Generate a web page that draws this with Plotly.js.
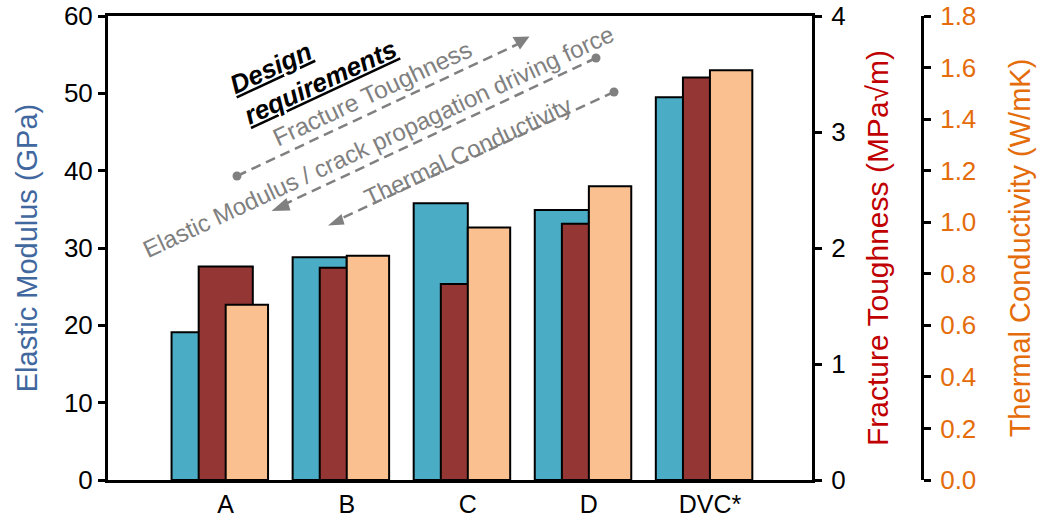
<!DOCTYPE html>
<html>
<head>
<meta charset="utf-8">
<script src="https://cdn.plot.ly/plotly-3.0.1.min.js"></script>
<style>html,body{margin:0;padding:0;background:#fff}</style>
</head>
<body>
<div id="chart" style="width:1058px;height:520px"></div>
<script>
// Materials compared
const materials = ['A', 'B', 'C', 'D', 'DVC*'];
// Elastic modulus (GPa) – left axis
const elasticModulus = [19.1, 28.8, 35.8, 34.9, 49.5];
// Fracture toughness (MPa√m) – first right axis
const fractureToughness = [1.84, 1.83, 1.69, 2.21, 3.47];
// Thermal conductivity (W/mK) – outer right axis
const thermalConductivity = [0.68, 0.87, 0.98, 1.14, 1.59];

const FONT = 'Liberation Sans, Arial, Helvetica, sans-serif';
const W = 1058, H = 520;
const M = {l: 108, r: 136, t: 16, b: 40};
const plotW = W - M.l - M.r, plotH = H - M.t - M.b;
const xDomainEnd = 704 / plotW;

// helpers: page pixel -> paper fraction (for the decorative arrows)
const px = v => (v - M.l) / plotW;
const py = v => (H - M.b - v) / plotH;

const GRAY = '#808080';
const edge = {color: '#000', width: 2};

const traces = [
  {type: 'bar', x: materials, y: elasticModulus, yaxis: 'y', name: 'Elastic Modulus',
   offset: -0.447, width: 0.447, marker: {color: '#4BACC6', line: edge}},
  {type: 'bar', x: materials, y: fractureToughness, yaxis: 'y2', name: 'Fracture Toughness',
   offset: -0.223, width: 0.447, marker: {color: '#943634', line: edge}},
  {type: 'bar', x: materials, y: thermalConductivity, yaxis: 'y3', name: 'Thermal Conductivity',
   offset: 0, width: 0.35, marker: {color: '#FAC090', line: edge}}
];

// dashed guide arrows with dot at the tail and a triangular head
function dashed(x0, y0, x1, y1) {
  return {type: 'line', xref: 'paper', yref: 'paper', x0: px(x0), y0: py(y0), x1: px(x1), y1: py(y1),
          line: {color: GRAY, width: 2.5, dash: '10px,6px'}};
}
function dot(cx, cy, r) {
  return {type: 'circle', xref: 'paper', yref: 'paper', x0: px(cx - r), x1: px(cx + r),
          y0: py(cy + r), y1: py(cy - r), fillcolor: GRAY, line: {width: 0}};
}
function tri(pts) {
  const d = 'M ' + pts.map(p => px(p[0]) + ',' + py(p[1])).join(' L ') + ' Z';
  return {type: 'path', xref: 'paper', yref: 'paper', path: d, fillcolor: GRAY, line: {width: 0}};
}

const shapes = [
  dashed(237, 176, 518, 44), dot(237, 176, 4.5), tri([[512.5, 37], [529.5, 36.5], [520, 49.5]]),
  dashed(596, 58, 285, 204), dot(596, 58, 4.5), tri([[271.5, 211], [286.5, 198], [290.5, 210.5]]),
  dashed(614, 92, 340, 219), dot(614, 92, 4.5), tri([[328, 225.5], [341.5, 214], [344.5, 224.5]])
];

function note(text, cx, cy, size, color, extra) {
  return Object.assign({xref: 'paper', yref: 'paper', x: px(cx), y: py(cy), text: text,
    showarrow: false, textangle: -25, xanchor: 'center', yanchor: 'middle',
    font: {family: FONT, size: size, color: color}}, extra || {});
}

const annotations = [
  note('<b><i><u>Design</u></i></b><br><b><i><u>requirements</u></i></b>', 313, 67, 26, '#000', {align: 'left'}),
  note('Fracture Toughness', 372, 93, 24.5, GRAY),
  note('Elastic Modulus / crack propagation driving force', 378, 141, 24, GRAY),
  note('Thermal Conductivity', 467, 151, 24, GRAY)
];

const axisCommon = {
  showline: true, linecolor: '#000', linewidth: 3,
  ticks: 'outside', ticklen: 7, tickwidth: 3, tickcolor: '#000',
  showgrid: false, zeroline: false, fixedrange: true,
  tickfont: {family: FONT, size: 26, color: '#000'}
};

const layout = {
  width: W, height: H,
  margin: M,
  paper_bgcolor: '#fff', plot_bgcolor: '#fff',
  showlegend: false,
  font: {family: FONT},
  xaxis: {
    domain: [0, xDomainEnd], type: 'category', range: [-0.972, 4.843],
    showline: true, linecolor: '#000', linewidth: 3, mirror: true,
    ticks: '', showgrid: false, zeroline: false, fixedrange: true,
    tickfont: {family: FONT, size: 25, color: '#000'}
  },
  yaxis: Object.assign({}, axisCommon, {
    range: [0, 60], dtick: 10, tick0: 0,
    title: {text: 'Elastic Modulus (GPa)', standoff: 18,
            font: {family: FONT, size: 29, color: '#41689E'}}
  }),
  yaxis2: Object.assign({}, axisCommon, {
    overlaying: 'y', side: 'right', anchor: 'x',
    range: [0, 4], dtick: 1, tick0: 0, ticklabelstandoff: 4,
    title: {text: 'Fracture Toughness (MPa\u221Am)', standoff: 23,
            font: {family: FONT, size: 30, color: '#C00000'}}
  }),
  yaxis3: Object.assign({}, axisCommon, {
    overlaying: 'y', side: 'right', anchor: 'free', position: 1,
    range: [0, 1.8], dtick: 0.2, tick0: 0, tickformat: '.1f', ticklabelstandoff: 4,
    tickfont: {family: FONT, size: 26, color: '#E46C0A'},
    title: {text: 'Thermal Conductivity (W/mK)', standoff: 34,
            font: {family: FONT, size: 29, color: '#E46C0A'}}
  }),
  shapes: shapes,
  annotations: annotations
};

Plotly.newPlot('chart', traces, layout, {displayModeBar: false, staticPlot: true});
</script>
</body>
</html>
